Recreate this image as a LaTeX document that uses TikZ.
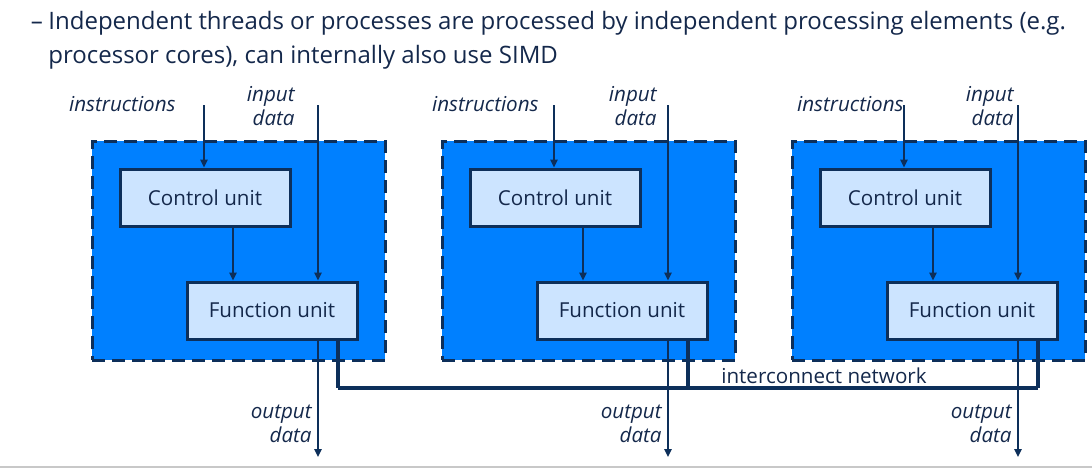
\documentclass[tikz,border=0pt]{standalone}
\usepackage{fontspec}
\setmainfont{Open Sans}
\usetikzlibrary{arrows.meta,positioning}
\definecolor{navy}{HTML}{0D2F5A}
\definecolor{inktext}{HTML}{14284B}
\definecolor{peblue}{HTML}{0080FF}
\definecolor{unitfill}{HTML}{CCE4FF}
\definecolor{rulegray}{HTML}{C8C8C8}
\tikzset{
  toptext/.style={font=\fontsize{12}{17}\selectfont,text=inktext,inner sep=0pt},
  peframe/.style={draw=navy,fill=peblue,line width=1.5pt,
                  dash pattern=on 6.3pt off 3.7pt,inner sep=0pt,
                  minimum width=146.5pt,minimum height=109.5pt},
  unitbox/.style={draw=navy,fill=unitfill,line width=1.5pt,inner sep=0pt,
                  minimum width=85pt,minimum height=28.5pt,
                  font=\fontsize{10.3}{12}\selectfont,text=inktext},
  iolabel/.style={font=\fontsize{10.3}{12}\selectfont\itshape,text=inktext,
                  align=right,inner sep=0pt},
  netlabel/.style={font=\fontsize{10.3}{12}\selectfont,text=inktext,inner sep=0pt},
  flowarr/.style={-{Triangle[length=4pt,width=3.6pt]},line width=1pt,draw=navy},
  netline/.style={line width=1.6pt,draw=navy}
}
\begin{document}
\begin{tikzpicture}[x=0.5pt,y=-0.5pt]
    \path[use as bounding box] (0,0) rectangle (1092,472);
    % heading
    \node[toptext,anchor=base] (dash) at (37,29) {–};
    \node[toptext,anchor=base west] (introa) at (48,29)
      {Independent threads or processes are processed by independent processing elements (e.g.};
    \node[toptext,anchor=base west] (introb) at (48,63)
      {processor cores), can internally also use SIMD};
    % three processing elements
    \foreach \i/\o/\il/\dl in {1/0/176/295,2/350/539/657,3/700/904/1014}{
      \node[peframe] (pe\i) at ({238.5+\o},250.5) {};
      \node[unitbox] (ctl\i) at ({205+\o},197.5) {Control unit};
      \node[unitbox] (fu\i) at ({272+\o},310.5) {Function unit};
      \coordinate (insin\i) at ({204+\o},105);
      \coordinate (datin\i) at ({318+\o},105);
      \coordinate (cf\i) at ({233+\o},0);
      \coordinate (datout\i) at ({318+\o},457);
      \coordinate (net\i) at ({338+\o},388);
      \node[iolabel,anchor=east] (inslbl\i) at (\il,104) {instructions};
      \node[iolabel,anchor=east] (datlbl\i) at (\dl,106) {input\\data};
      \node[iolabel,anchor=east] (outlbl\i) at ({312+\o},424) {output\\data};
      \draw[flowarr] (insin\i) -- (insin\i |- ctl\i.north);
      \draw[flowarr] (datin\i) -- (datin\i |- fu\i.north);
      \draw[flowarr] (ctl\i.south -| cf\i) -- (fu\i.north -| cf\i);
      \draw[flowarr] (datout\i |- fu\i.south) -- (datout\i);
      \draw[netline] (net\i |- fu\i.south) -- (net\i);
    }
    % interconnect
    \draw[netline] (net1) -- (net3);
    \node[netlabel] (netlbl) at (824,376) {interconnect network};
    \draw[rulegray,line width=1pt] (0,467) -- (1092,467);
  \end{tikzpicture}
\end{document}
